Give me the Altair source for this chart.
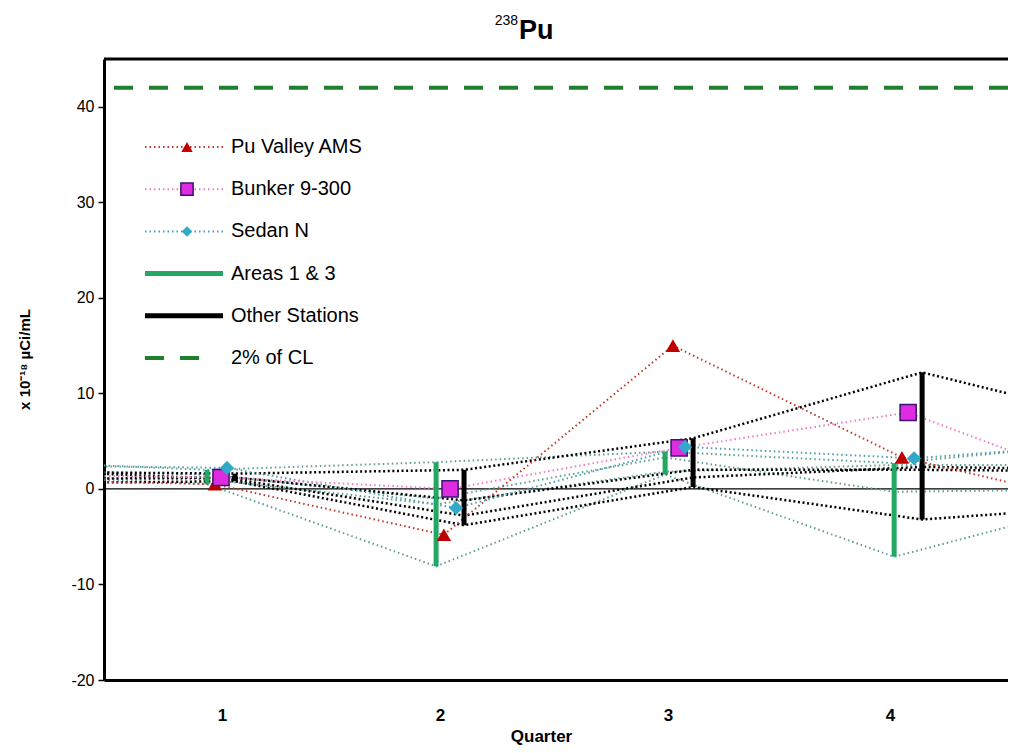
import altair as alt
import pandas as pd

# ---------------- data ----------------
quarters = [0, 1, 2, 3, 4, 5]          # 0 and 5 are the neighbouring quarters, partly visible at the edges
tick_quarters = [1, 2, 3, 4]

pu_valley = [1.0, 0.5, -4.8, 15.0, 3.3, -2.3]
bunker = [1.5, 1.2, 0.0, 4.3, 8.0, -1.0]
sedan_n = [2.5, 2.2, -2.0, 4.4, 3.2, 5.0]

areas_stations = {
    "Area st. A": [3.0, 2.0, 2.8, 3.9, 2.7, 5.0],
    "Area st. B": [1.5, 0.5, -8.1, 1.5, -7.1, -0.8],
    "Area st. C": [2.0, 1.5, -1.0, 3.3, -0.3, 0.0],
    "Area st. D": [1.2, 1.0, -1.6, 1.8, 2.5, 2.5],
}
other_stations = {
    "Other st. A": [1.8, 1.6, 2.0, 5.3, 12.2, 6.3],
    "Other st. B": [1.0, 1.2, -1.2, 2.0, 2.0, 1.8],
    "Other st. C": [0.6, 0.8, -3.8, 0.2, -3.2, -1.5],
    "Other st. D": [2.0, 1.0, -2.8, 1.2, 2.3, 2.0],
}
cl_2pct = 42

legend_labels = ["Pu Valley AMS", "Bunker 9-300", "Sedan N", "Areas 1 & 3", "Other Stations", "2% of CL"]

# ---------------- styling ----------------
NARROW = "Liberation Sans Narrow, Liberation Sans, Arial"
SANS = "Liberation Sans, Arial"
W, H = 904, 621
x_dom = [0.533, 4.480]
y_dom = [-20, 45]
xs = alt.Scale(domain=x_dom, nice=False, zero=False)
ys = alt.Scale(domain=y_dom, nice=False, zero=False)

offsets = {"areas": -0.017, "pu": 0.017, "bunker": 0.044, "sedan": 0.07, "other": 0.105}

C_PU = "#C00000"
C_PU_LINE = "#C0392B"
C_BUNKER_FILL = "#E02CE0"
C_BUNKER_EDGE = "#3A1470"
C_BUNKER_LINE = "#F07CC8"
C_SEDAN = "#31A9C9"
C_SEDAN_LINE = "#4A9FB0"
C_AREA_LINE = "#5E9E96"
C_GREEN = "#22A863"
C_CL = "#1F7F2F"

# label positions of the category text under the axis
label_pos = [1.048, 2.0, 2.9956, 3.965]

x_axis = alt.Axis(values=label_pos, labelExpr="format(round(datum.value), 'd')", ticks=False,
                  domainColor="black", domainWidth=3, labelFont=NARROW, labelFontSize=17,
                  labelFontWeight="bold", labelColor="black", labelPadding=27, labelFlush=False,
                  grid=False, title="Quarter", titleFont=NARROW, titleFontSize=17,
                  titleFontWeight="bold", titleColor="black", titleX=437, titleY=56,
                  titleBaseline="middle", titleAlign="center")
y_axis = alt.Axis(values=[-20, -10, 0, 10, 20, 30, 40], tickSize=6, tickColor="black", tickWidth=1.5,
                  domainColor="black", domainWidth=3, labelFont=NARROW, labelFontSize=16,
                  labelExpr="datum.value < 0 ? '-' + abs(datum.value) : '' + datum.value",
                  labelColor="black", labelPadding=4, grid=False,
                  title="x 10⁻¹⁸ µCi/mL", titleFont=SANS, titleFontSize=15, titleFontWeight="bold",
                  titleColor="black", titleX=-80, titleY=300, titleAngle=270,
                  titleAlign="center", titleBaseline="middle")


def X(field="q"):
    return alt.X(f"{field}:Q", scale=xs, axis=x_axis, title="Quarter")


def Y(field="v"):
    return alt.Y(f"{field}:Q", scale=ys, axis=y_axis, title="x 10⁻¹⁸ µCi/mL")


def station_df(stations, group):
    rows = []
    for name, vals in stations.items():
        for q, v in zip(quarters, vals):
            rows.append({"q": q + offsets[group], "v": v, "station": name})
    return pd.DataFrame(rows)


def range_df(stations, group):
    rows = []
    for i, q in enumerate(quarters):
        if q not in tick_quarters:
            continue
        vals = [s[i] for s in stations.values()]
        rows.append({"q": q + offsets[group], "lo": min(vals), "hi": max(vals)})
    return pd.DataFrame(rows)


areas_df = station_df(areas_stations, "areas")
other_df = station_df(other_stations, "other")
pu_df = station_df({"Pu Valley AMS": pu_valley}, "pu")
bunker_df = station_df({"Bunker 9-300": bunker}, "bunker")
sedan_df = station_df({"Sedan N": sedan_n}, "sedan")
green_bars = range_df(areas_stations, "areas")
black_bars = range_df(other_stations, "other")

single = pd.DataFrame({"k": [0]})
base_single = alt.Chart(single)

layers = []

# zero line, 2% CL line, top border
layers.append(base_single.mark_rule(color="black", strokeWidth=1.2).encode(y=alt.Y(datum=0, scale=ys, axis=y_axis)))
layers.append(base_single.mark_rule(color=C_CL, strokeWidth=4, strokeDash=[19, 16]).encode(
    y=alt.Y(datum=cl_2pct, scale=ys, axis=y_axis)))
layers.append(base_single.mark_rule(color="black", strokeWidth=3).encode(y=alt.Y(datum=45, scale=ys, axis=y_axis)))

# station dotted lines
layers.append(alt.Chart(areas_df).mark_line(color=C_AREA_LINE, strokeWidth=2, strokeDash=[1.5, 3], clip=True)
              .encode(x=X(), y=Y(), detail="station:N"))
layers.append(alt.Chart(other_df).mark_line(color="black", strokeWidth=2.5, strokeDash=[2, 2.6], clip=True)
              .encode(x=X(), y=Y(), detail="station:N"))
layers.append(alt.Chart(sedan_df).mark_line(color=C_SEDAN_LINE, strokeWidth=2, strokeDash=[1.5, 3], clip=True)
              .encode(x=X(), y=Y()))
layers.append(alt.Chart(bunker_df).mark_line(color=C_BUNKER_LINE, strokeWidth=2, strokeDash=[1.5, 3], clip=True)
              .encode(x=X(), y=Y()))
layers.append(alt.Chart(pu_df).mark_line(color=C_PU_LINE, strokeWidth=2, strokeDash=[1.5, 3], clip=True)
              .encode(x=X(), y=Y()))

# range bars
layers.append(alt.Chart(green_bars).mark_rule(color=C_GREEN, strokeWidth=5, clip=True)
              .encode(x=X(), y=Y("lo"), y2="hi:Q"))
layers.append(alt.Chart(black_bars).mark_rule(color="black", strokeWidth=5, clip=True)
              .encode(x=X(), y=Y("lo"), y2="hi:Q"))

# markers
layers.append(alt.Chart(pu_df).mark_point(shape="triangle-up", filled=True, color=C_PU, size=210,
                                          opacity=1, clip=True).encode(x=X(), y=Y()))
layers.append(alt.Chart(bunker_df).mark_point(shape="square", filled=True, fill=C_BUNKER_FILL,
                                              stroke=C_BUNKER_EDGE, strokeWidth=1.5, size=260,
                                              opacity=1, clip=True).encode(x=X(), y=Y()))
layers.append(alt.Chart(sedan_df).mark_point(shape="diamond", filled=True, color=C_SEDAN, size=200,
                                             opacity=1, clip=True).encode(x=X(), y=Y()))

# ---------------- manual legend ----------------
row_y = [88 + 42.2 * i for i in range(len(legend_labels))]
sym_x0, sym_x1, mark_x, text_x = 41, 119, 83, 127
leg_styles = [
    dict(color=C_PU_LINE, strokeWidth=2, strokeDash=[1.5, 3]),
    dict(color=C_BUNKER_LINE, strokeWidth=2, strokeDash=[1.5, 3]),
    dict(color=C_SEDAN_LINE, strokeWidth=2, strokeDash=[1.5, 3]),
    dict(color=C_GREEN, strokeWidth=5),
    dict(color="black", strokeWidth=5),
    dict(color=C_CL, strokeWidth=4, strokeDash=[19, 16]),
]
for i, (lab, st) in enumerate(zip(legend_labels, leg_styles)):
    x1 = sym_x1 if i < 5 else 104
    layers.append(base_single.mark_rule(**st).encode(
        x=alt.value(sym_x0), x2=alt.value(x1), y=alt.value(row_y[i])))
    layers.append(base_single.mark_text(align="left", baseline="middle", font=SANS, fontSize=20,
                                        color="black").encode(
        x=alt.value(text_x), y=alt.value(row_y[i]), text=alt.value(lab)))
layers.append(base_single.mark_point(shape="triangle-up", filled=True, color=C_PU, size=130, opacity=1)
              .encode(x=alt.value(mark_x), y=alt.value(row_y[0])))
layers.append(base_single.mark_point(shape="square", filled=True, fill=C_BUNKER_FILL, stroke=C_BUNKER_EDGE,
                                     strokeWidth=1.5, size=150, opacity=1)
              .encode(x=alt.value(mark_x), y=alt.value(row_y[1])))
layers.append(base_single.mark_point(shape="diamond", filled=True, color=C_SEDAN, size=110, opacity=1)
              .encode(x=alt.value(mark_x), y=alt.value(row_y[2])))

# ---------------- title ----------------
layers.append(base_single.mark_text(align="right", baseline="middle", font=NARROW, fontSize=14,
                                    color="black").encode(x=alt.value(414), y=alt.value(-38),
                                                          text=alt.value("238")))
layers.append(base_single.mark_text(align="left", baseline="middle", font=NARROW, fontSize=27,
                                    fontWeight="bold", color="black").encode(
    x=alt.value(415), y=alt.value(-28), text=alt.value("Pu")))

chart = alt.layer(*layers).properties(
    width=W, height=H,
    padding={"left": 96, "top": 51, "right": 0, "bottom": 65},
    autosize=alt.AutoSizeParams(type="none"),
    background="white",
).configure_view(stroke=None)

chart.save("out.html", embed_options={"renderer": "svg", "actions": False})
